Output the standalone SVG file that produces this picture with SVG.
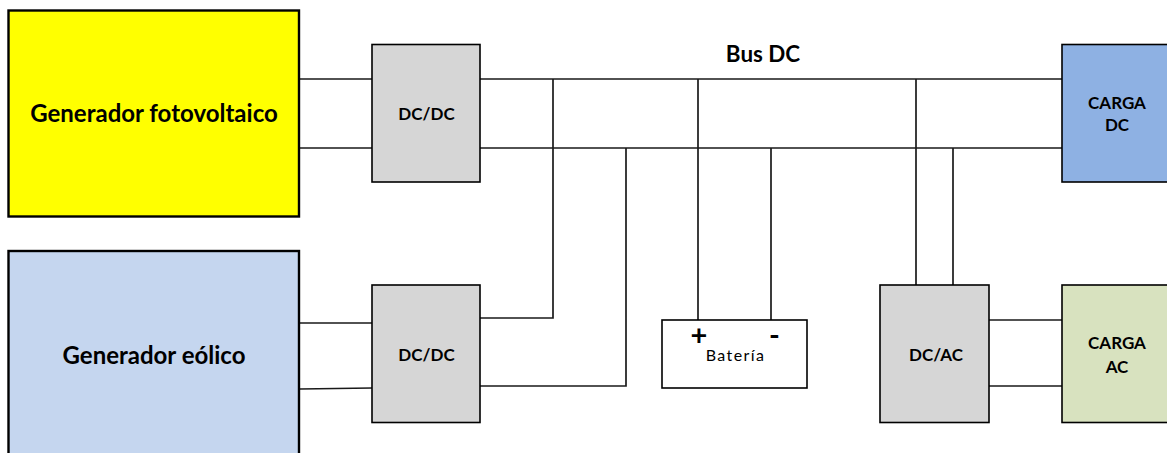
<svg xmlns="http://www.w3.org/2000/svg" width="1167" height="453" viewBox="0 0 1167 453">
<style>
text{font-family:Lato,"Open Sans","Liberation Sans",sans-serif;font-weight:700;fill:#000;text-anchor:middle}
.box{stroke:#000;stroke-width:1.6}
.gen{stroke:#000;stroke-width:2.4}
.conv{fill:#d6d6d6}
.big{font-size:24px}
.mid{font-size:17px}
.small{font-size:17px}
#connectors path{fill:none;stroke:#1a1a1a;stroke-width:1.7}
</style>
<rect width="1167" height="453" fill="#fff"/>
<g id="connectors">
<path d="M300 79H372M300 148H372"/>
<path d="M480 79H1062M480 148H1062"/>
<path d="M300 323H372M300 389L372 388"/>
<path d="M480 318H553V79M480 386H626V148"/>
<path d="M698 79V320M771 148V320"/>
<path d="M916 79V285M953 148V285"/>
<path d="M989 320H1062M989 386H1062"/>
</g>
<g id="gen-pv"><rect class="gen" x="8.500" y="10.500" width="290.500" height="206" fill="#ffff00"/><text class="big" x="154" y="122">Generador fotovoltaico</text></g>
<g id="gen-eolico"><rect class="gen" x="8.500" y="251" width="290.500" height="212" fill="#c5d6ef"/><text class="big" x="154" y="364">Generador eólico</text></g>
<g id="dcdc-1"><rect class="box conv" x="372" y="44.500" width="108" height="137.500"/><text class="mid" x="426.500" y="120">DC/DC</text></g>
<g id="dcdc-2"><rect class="box conv" x="372" y="285" width="108" height="137.500"/><text class="mid" x="426.500" y="361">DC/DC</text></g>
<g id="bateria"><rect class="box" x="662" y="320" width="145" height="68" fill="#fff"/><text x="735.500" y="361" style="font-weight:400;font-size:16px;letter-spacing:1.400px">Batería</text><text x="699" y="345" style="font-size:29px">+</text><text x="774.500" y="345" style="font-size:29px">-</text></g>
<g id="dcac"><rect class="box conv" x="880" y="285" width="109" height="137.500"/><text class="mid" x="936" y="361">DC/AC</text></g>
<g id="carga-dc"><rect class="box" x="1062" y="44.500" width="110" height="137.500" fill="#8eb1e3"/><text class="small" x="1117" y="109">CARGA</text><text class="small" x="1117" y="131">DC</text></g>
<g id="carga-ac"><rect class="box" x="1062" y="285" width="110" height="137.500" fill="#d8e2bf"/><text class="small" x="1117" y="349">CARGA</text><text class="small" x="1117" y="373">AC</text></g>
<text x="763" y="62" style="font-size:22.400px">Bus DC</text>
</svg>
